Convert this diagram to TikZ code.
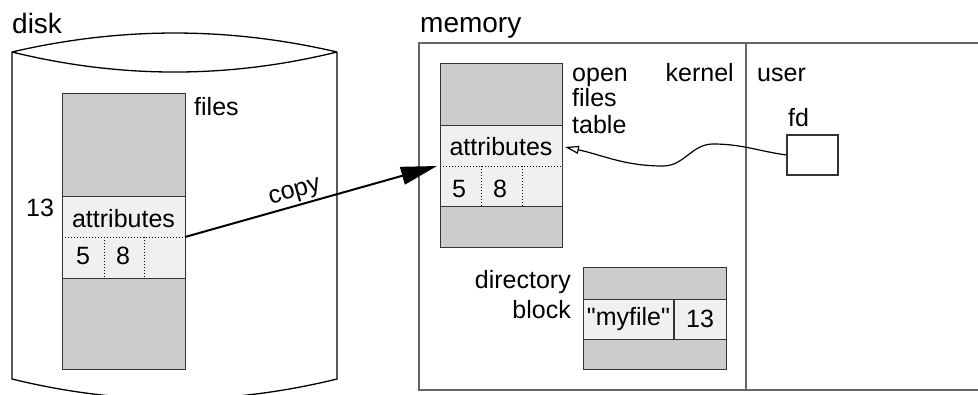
\documentclass[tikz,border=0pt]{standalone}
\usepackage{fontspec}
\setmainfont{Liberation Sans}[Ligatures=TeXOff]
\usepackage{tikz}
\usetikzlibrary{arrows.meta}

\definecolor{blockgrey}{HTML}{CCCCCC}
\definecolor{bandgrey}{HTML}{F0F0F0}
\definecolor{edgegrey}{HTML}{333333}
\definecolor{framegrey}{HTML}{666666}

\begin{document}
\begin{tikzpicture}[x=1pt, y=-1pt,
    font=\fontsize{25}{29}\selectfont,
    blockbox/.style={draw=edgegrey, fill=blockgrey, line width=1.2pt, anchor=north west, inner sep=0pt},
    bandbox/.style={draw=edgegrey, fill=bandgrey, line width=1.2pt, anchor=north west, inner sep=0pt},
    dotline/.style={dotted, line width=1pt},
    label/.style={inner sep=0pt}]
    \useasboundingbox (0,0) rectangle (978,394);

    % disk (cylinder)
    \draw[line width=1.3pt] (12,52) .. controls (120.7,26.7) and (228.3,26.7) .. (337,52);
    \draw[line width=1.3pt] (12,52) .. controls (120.7,78.7) and (228.3,78.7) .. (337,52);
    \draw[line width=1.3pt] (12,52) -- (12,379) .. controls (120.7,405.7) and (228.3,405.7) .. (337,379) -- (337,52);
    \node[label, anchor=base west, font=\fontsize{28}{32}\selectfont] (disk) at (12,33) {disk};

    % files on disk
    \node[blockbox, minimum width=123pt, minimum height=276pt] (dcol) at (62,93) {};
    \node[bandbox, minimum width=123pt, minimum height=82pt] (dband) at (62,196) {};
    \coordinate (ddotw) at (62,237);
    \coordinate (ddote) at (185,237);
    \draw[dotline] (ddotw) -- (ddote);
    \draw[dotline] (104,237) -- (104,278);
    \draw[dotline] (144,237) -- (144,278);
    \node[label, anchor=base] (dattr) at (123.5,227) {attributes};
    \node[label, anchor=base] (dfive) at (83,264) {5};
    \node[label, anchor=base] (deight) at (123,264) {8};
    \node[label, anchor=base west] (dfiles) at (194,115) {files};
    \node[label, anchor=base west] (dnum) at (26,216) {13};

    % memory
    \draw[framegrey, line width=1.5pt] (978,43) -- (419,43) -- (419,390) -- (978,390);
    \draw[framegrey, line width=1.5pt] (746,43) -- (746,390);
    \node[label, anchor=base west, font=\fontsize{28}{32}\selectfont] (memory) at (420,32) {memory};
    \node[label, anchor=base east] (kernel) at (734,81) {kernel};
    \node[label, anchor=base west] (user) at (757,81) {user};

    % open files table
    \node[blockbox, minimum width=122pt, minimum height=184pt] (mcol) at (440,63) {};
    \node[bandbox, minimum width=122pt, minimum height=81pt] (mband) at (440,125) {};
    \coordinate (mdotw) at (440,166);
    \coordinate (mdote) at (562,166);
    \draw[dotline] (mdotw) -- (mdote);
    \draw[dotline] (481,166) -- (481,206);
    \draw[dotline] (522,166) -- (522,206);
    \node[label, anchor=base] (mattr) at (501,155) {attributes};
    \node[label, anchor=base] (mfive) at (459,197) {5};
    \node[label, anchor=base] (meight) at (500,197) {8};
    \coordinate (mtip) at (565,147);
    \node[label, anchor=base west] (open) at (572,81) {open};
    \node[label, anchor=base west] (ofiles) at (572,106) {files};
    \node[label, anchor=base west] (table) at (572,133) {table};

    % directory block
    \node[blockbox, minimum width=143pt, minimum height=102pt] (dir) at (583,267) {};
    \node[bandbox, minimum width=143pt, minimum height=40pt] (dirband) at (583,299) {};
    \draw[edgegrey, line width=1.2pt] (674,299) -- (674,339);
    \node[label] (myfile) at (628.5,319) {"myfile"};
    \node[label] (dirnum) at (700,319) {13};
    \node[label, anchor=base east] (directory) at (571,288) {directory};
    \node[label, anchor=base east] (block) at (571,318) {block};

    % fd
    \node[draw=edgegrey, line width=1.2pt, minimum width=51pt, minimum height=40pt, inner sep=0pt] (fd) at (812.5,155) {};
    \node[label, anchor=base west] (fdtext) at (788,126) {fd};

    % copy arrow
    \draw[line width=2pt, -{Triangle[length=36pt, width=18pt]}] (ddote) -- ([xshift=-3pt]mdotw)
        node[pos=0.45, sloped, above, inner sep=2pt] (copy) {copy};

    % fd pointer
    \draw[line width=1.2pt, -{Triangle[open, length=14pt, width=8pt]}] (fd.west)
        to[out=172, in=0] (713,144) to[out=180, in=0] (663,166) to[out=180, in=-12] (mtip);
\end{tikzpicture}
\end{document}
